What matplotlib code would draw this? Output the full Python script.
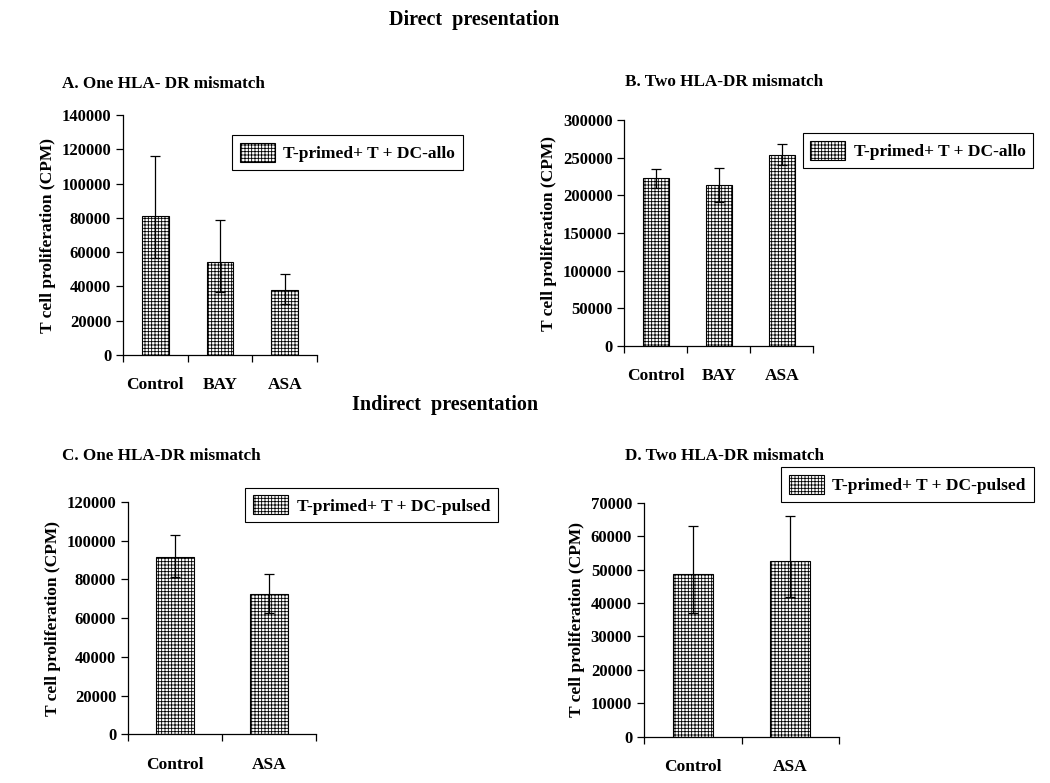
import numpy as np
import matplotlib
matplotlib.use("Agg")
from matplotlib import pyplot as plt

plt.rcParams['font.family'] = ['Liberation Serif', 'DejaVu Serif']
plt.rcParams['font.weight'] = 'bold'
plt.rcParams['hatch.linewidth'] = 0.6

# panel data: bar value, lower end of error bar, upper end of error bar
cats_a = ["Control", "BAY", "ASA"]
vals_a = [81000, 54500, 38000]
low_a = [56600, 37000, 29500]
high_a = [116000, 79000, 47000]

cats_b = ["Control", "BAY", "ASA"]
vals_b = [222500, 213500, 254000]
low_b = [210000, 191500, 240000]
high_b = [235000, 236500, 268000]

cats_c = ["Control", "ASA"]
vals_c = [91700, 72300]
low_c = [81000, 62800]
high_c = [103000, 83000]

cats_d = ["Control", "ASA"]
vals_d = [48600, 52600]
low_d = [37100, 41900]
high_d = [63100, 66100]

ticks_a = np.arange(0, 140001, 20000)
ticks_b = np.arange(0, 300001, 50000)
ticks_c = np.arange(0, 120001, 20000)
ticks_d = np.arange(0, 70001, 10000)

fig = plt.figure(figsize=(10.5, 7.83), dpi=100)


def panel(rect, cats, vals, low, high, yticks, label, leg_xy):
    ax = fig.add_axes(rect)
    x = np.arange(len(cats))
    vals = np.array(vals)
    err = [vals - np.array(low), np.array(high) - vals]
    ax.bar(x, vals, width=0.41, color='white', edgecolor='black',
           hatch='+++++', linewidth=0.8, label=label, zorder=2)
    ax.errorbar(x, vals, yerr=err, fmt='none', ecolor='black',
                elinewidth=0.9, capsize=3.5, capthick=0.9, zorder=3)
    ax.set_xlim(-0.5, len(cats) - 0.5)
    ax.set_ylim(yticks[0], yticks[-1])
    ax.set_yticks(yticks)
    ax.set_yticklabels([str(t) for t in yticks])
    ax.set_xticks(np.arange(len(cats) + 1) - 0.5)
    ax.set_xticklabels([])
    ax.set_xticks(x, minor=True)
    ax.set_xticklabels(cats, minor=True)
    ax.tick_params(axis='x', which='minor', length=0, pad=16, labelsize=12.5)
    ax.tick_params(axis='x', which='major', direction='out', length=5, width=0.9)
    ax.tick_params(axis='y', direction='out', length=5, width=0.9, labelsize=12)
    for s in ['top', 'right']:
        ax.spines[s].set_visible(False)
    for s in ['left', 'bottom']:
        ax.spines[s].set_linewidth(0.9)
    ax.set_ylabel("T cell proliferation (CPM)", fontsize=12.5, fontweight='bold')
    leg = ax.legend(loc='center', bbox_to_anchor=leg_xy, bbox_transform=fig.transFigure,
                    fancybox=False, edgecolor='black', framealpha=1,
                    handlelength=2.0, handleheight=1.3, fontsize=12.5,
                    borderpad=0.45, handletextpad=0.5)
    leg.get_frame().set_linewidth(0.8)
    return ax


panel([0.1171, 0.5466, 0.1848, 0.3065], cats_a, vals_a, low_a, high_a, ticks_a,
      "T-primed+ T + DC-allo", (0.331, 0.8048))
panel([0.5946, 0.5581, 0.18, 0.2886], cats_b, vals_b, low_b, high_b, ticks_b,
      "T-primed+ T + DC-allo", (0.8743, 0.808))
panel([0.1219, 0.0622, 0.179, 0.2967], cats_c, vals_c, low_c, high_c, ticks_c,
      "T-primed+ T + DC-pulsed", (0.354, 0.355))
panel([0.6133, 0.0591, 0.186, 0.2989], cats_d, vals_d, low_d, high_d, ticks_d,
      "T-primed+ T + DC-pulsed", (0.8643, 0.3808))

fig.text(474 / 1050, 1 - 20 / 783, "Direct  presentation", ha='center', va='center',
         fontsize=14.5, fontweight='bold')
fig.text(445 / 1050, 1 - 405 / 783, "Indirect  presentation", ha='center', va='center',
         fontsize=14.5, fontweight='bold')
fig.text(62 / 1050, 1 - 84 / 783, "A. One HLA- DR mismatch", ha='left', va='center',
         fontsize=12.3, fontweight='bold')
fig.text(625 / 1050, 1 - 82 / 783, "B. Two HLA-DR mismatch", ha='left', va='center',
         fontsize=12.3, fontweight='bold')
fig.text(62 / 1050, 1 - 456 / 783, "C. One HLA-DR mismatch", ha='left', va='center',
         fontsize=12.3, fontweight='bold')
fig.text(625 / 1050, 1 - 456 / 783, "D. Two HLA-DR mismatch", ha='left', va='center',
         fontsize=12.3, fontweight='bold')

fig.savefig("out.png", dpi=100)
